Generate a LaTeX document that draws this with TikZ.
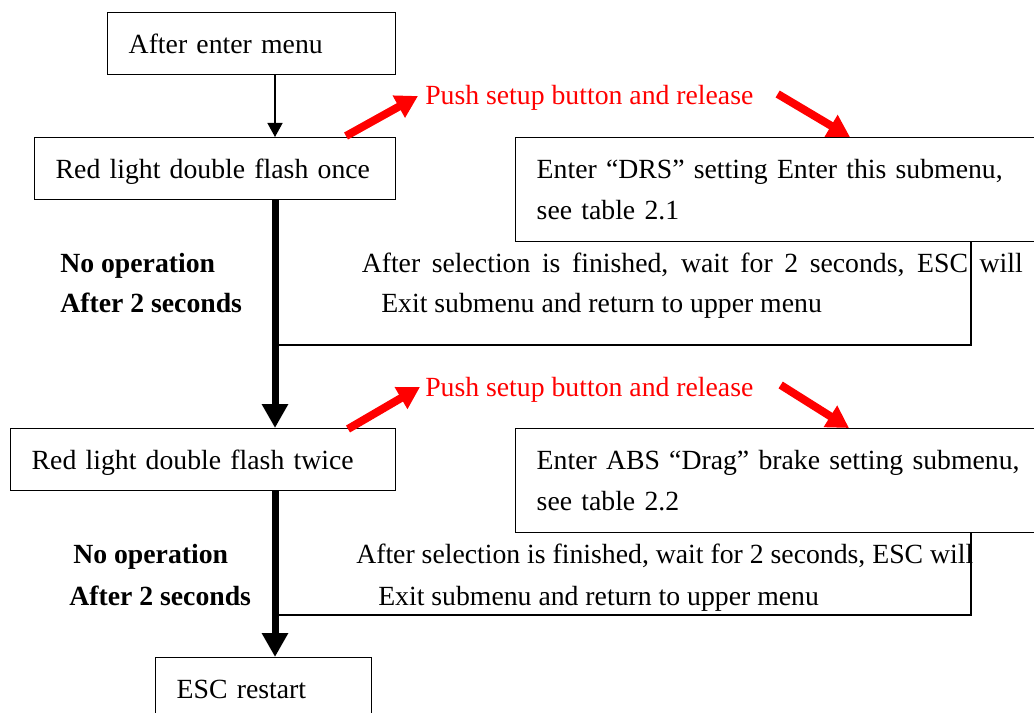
\documentclass[tikz,border=0pt]{standalone}
\usepackage{fontspec}
\setmainfont{Liberation Serif}
\usetikzlibrary{arrows.meta,calc}
\definecolor{pushred}{RGB}{255,0,0}
\begin{document}
\begin{tikzpicture}[x=0.75pt,y=-0.75pt,
  every node/.style={font=\fontsize{20.8pt}{31.1pt}\selectfont},
  box/.style={draw, line width=1.1pt, anchor=north west, inner xsep=15.75pt, inner ysep=0pt,
    minimum height=46.5pt, align=left, text height=15pt, text depth=0pt},
  wide/.style={draw, line width=1.1pt, anchor=north west, inner xsep=15.75pt, inner ysep=0pt,
    minimum height=78pt, text width=364.5pt, align=left},
  lbl/.style={anchor=base west, inner sep=0pt},
  bl/.style={lbl, font=\fontsize{20.8pt}{31.1pt}\selectfont\bfseries},
  rd/.style={lbl, text=pushred},
  thinarrow/.style={line width=1pt, -{Triangle[length=10.5pt,width=11.25pt]}},
  thickarrow/.style={line width=5.25pt, -{Triangle[length=18pt,width=18.75pt]}},
  redarrow/.style={draw=pushred, line width=6pt, -{Triangle[length=16.5pt,width=18pt]}},
  ret/.style={line width=0.9pt}]
\useasboundingbox (0,0) rectangle (1034,713);
\clip (0,0) rectangle (1034,713);

% boxes
\node[box, text width=184.5pt] (b1) at (107,12) {After enter menu};
\node[box, text width=239.25pt] (b2) at (34,137) {Red light double flash once};
\node[wide] (drs) at (515,137) {\makebox[364.5pt][s]{Enter “DRS” setting Enter this submenu,}\\see table 2.1};
\node[box, text width=257.25pt] (b3) at (10,428) {Red light double flash twice};
\node[wide] (drag) at (515,428) {\makebox[364.5pt][s]{Enter ABS “Drag” brake setting submenu,}\\see table 2.2};
\node[box, text width=130.5pt] (esc) at (155,657) {ESC restart};

% labels
\node[rd] (push1) at (425,105) {Push setup button and release};
\node[bl] (no1) at (60,272) {No operation};
\node[bl] (af1) at (60,312) {After 2 seconds};
\node[lbl] (sel1) at (361.5,272) {\makebox[495.75pt][s]{After selection is finished, wait for 2 seconds, ESC will}};
\node[lbl] (ex1) at (381,312) {Exit submenu and return to upper menu};

\node[rd] (push2) at (425,396) {Push setup button and release};
\node[bl] (no2) at (73,563) {No operation};
\node[bl] (af2) at (69,605) {After 2 seconds};
\node[lbl] (sel2) at (356,563) {After selection is finished, wait for 2 seconds, ESC will};
\node[lbl] (ex2) at (378,605) {Exit submenu and return to upper menu};

% spine
\coordinate (sp) at (275,0);
\draw[thinarrow] (b1.south -| sp) -- (b2.north -| sp);
\draw[thickarrow] (b2.south -| sp) -- (b3.north -| sp);
\draw[thickarrow] (b3.south -| sp) -- (esc.north -| sp);

% return lines
\coordinate (r1) at (971,345);
\draw[ret] (drs.south -| r1) -- (r1) -- (r1 -| sp);
\coordinate (r2) at (971,615);
\draw[ret] (drag.south -| r2) -- (r2) -- (r2 -| sp);

% red arrows
\draw[redarrow] ($(b2.north west)+(312,-1)$) -- ($(push1.base west)+(-7,-9)$);
\draw[redarrow] ($(push1.base east)+(24,-11)$) -- ($(drs.north west)+(335,0)$);
\draw[redarrow] ($(b3.north west)+(338,1)$) -- ($(push2.base west)+(-5,-9)$);
\draw[redarrow] ($(push2.base east)+(27,-11)$) -- ($(drag.north west)+(334,0)$);
\end{tikzpicture}
\end{document}
